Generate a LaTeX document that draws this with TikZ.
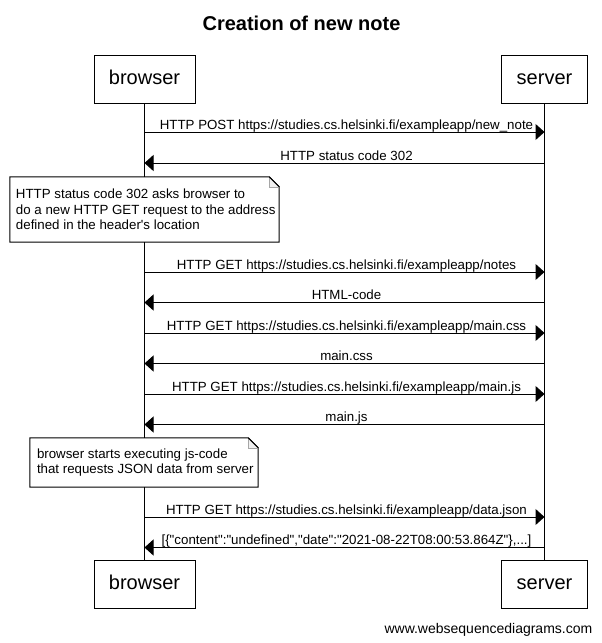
\documentclass[tikz,border=0pt]{standalone}
\usepackage{fontspec}
\setmainfont{Liberation Sans}[Ligatures={NoCommon}]
\usetikzlibrary{arrows.meta}
\newcommand{\qd}{\textquotedbl}
\begin{document}
\begin{tikzpicture}[x=1pt,y=-1pt,
  actor/.style={draw, line width=1pt, minimum width=#1, minimum height=48pt,
    inner sep=0pt, text height=14pt, text depth=4pt, fill=white,
    font=\fontsize{20}{24}\selectfont},
  lifeline/.style={line width=1pt},
  msg/.style={line width=1pt, -{Triangle[length=9pt,width=16pt]}},
  lbl/.style={anchor=base, inner sep=0pt, font=\fontsize{13.3}{15.3}\selectfont},
  noteframe/.style={fill=white, inner sep=0pt},
  notetext/.style={anchor=west, align=left, inner sep=0pt,
    font=\fontsize{13.3}{15.3}\selectfont},
  noteline/.style={line width=1pt},
  fold/.style={line width=0.6pt, draw=gray!70, fill=gray!12}
]
\useasboundingbox[fill=white] (0,0) rectangle (602,643);

% title
\node[anchor=base, inner sep=0pt, font=\fontsize{20}{24}\bfseries\selectfont] (title) at (301.5,30) {Creation of new note};

% actors
\node[actor=101pt] (bTop) at (144.5,79) {browser};
\node[actor=86pt] (sTop) at (544.5,79) {server};
\node[actor=101pt] (bBot) at (144.5,584.5) {browser};
\node[actor=86pt] (sBot) at (544.5,584.5) {server};

% lifelines
\draw[lifeline] (bTop.south) -- (bBot.north);
\draw[lifeline] (sTop.south) -- (sBot.north);

% lifeline coordinates
\foreach \i/\y in {1/132,2/163,3/272,4/302.5,5/333,6/363.5,7/394,8/424.5,9/517,10/547.5}{
  \coordinate (b\i) at (144.5,\y);
  \coordinate (s\i) at (544.5,\y);
}

% messages
\draw[msg] (b1) -- (s1);
\node[lbl] (l1) at (346.5,129) {HTTP POST https://studies.cs.helsinki.fi/exampleapp/new\_note};
\draw[msg] (s2) -- (b2);
\node[lbl] (l2) at (346.5,160) {HTTP status code 302};

% note 1
\node[noteframe, minimum width=269pt, minimum height=65pt] (n1) at (144.5,209.5) {};
\draw[noteline] (n1.north west) -- ([xshift=-10pt]n1.north east) -- ([yshift=-10pt]n1.north east) -- (n1.south east) -- (n1.south west) -- cycle;
\draw[fold] ([xshift=-10pt]n1.north east) -- ([xshift=-10pt,yshift=-10pt]n1.north east) -- ([yshift=-10pt]n1.north east);
\draw[noteline] ([xshift=-10pt]n1.north east) -- ([yshift=-10pt]n1.north east);
\node[notetext] (t1) at ([xshift=6pt]n1.west)
  {HTTP status code 302 asks browser to\\do a new HTTP GET request to the address\\defined in the header\textquotesingle s location};

\draw[msg] (b3) -- (s3);
\node[lbl] (l3) at (346.5,269) {HTTP GET https://studies.cs.helsinki.fi/exampleapp/notes};
\draw[msg] (s4) -- (b4);
\node[lbl] (l4) at (346.5,299.5) {HTML-code};
\draw[msg] (b5) -- (s5);
\node[lbl] (l5) at (346.5,330) {HTTP GET https://studies.cs.helsinki.fi/exampleapp/main.css};
\draw[msg] (s6) -- (b6);
\node[lbl] (l6) at (346.5,360.5) {main.css};
\draw[msg] (b7) -- (s7);
\node[lbl] (l7) at (346.5,391) {HTTP GET https://studies.cs.helsinki.fi/exampleapp/main.js};
\draw[msg] (s8) -- (b8);
\node[lbl] (l8) at (346.5,421.5) {main.js};

% note 2
\node[noteframe, minimum width=228pt, minimum height=49pt] (n2) at (144,462.5) {};
\draw[noteline] (n2.north west) -- ([xshift=-10pt]n2.north east) -- ([yshift=-10pt]n2.north east) -- (n2.south east) -- (n2.south west) -- cycle;
\draw[fold] ([xshift=-10pt]n2.north east) -- ([xshift=-10pt,yshift=-10pt]n2.north east) -- ([yshift=-10pt]n2.north east);
\draw[noteline] ([xshift=-10pt]n2.north east) -- ([yshift=-10pt]n2.north east);
\node[notetext] (t2) at ([xshift=7pt]n2.west)
  {browser starts executing js-code\\that requests JSON data from server};

\draw[msg] (b9) -- (s9);
\node[lbl] (l9) at (346.5,514) {HTTP GET https://studies.cs.helsinki.fi/exampleapp/data.json};
\draw[msg] (s10) -- (b10);
\node[lbl] (l10) at (346.5,544.5) {[\{\qd content\qd:\qd undefined\qd,\qd date\qd:\qd 2021-08-22T08:00:53.864Z\qd\},...]};

% footer
\node[anchor=base east, inner sep=0pt, font=\fontsize{14}{16}\selectfont] (footer) at (592.5,633) {www.websequencediagrams.com};
\end{tikzpicture}
\end{document}
